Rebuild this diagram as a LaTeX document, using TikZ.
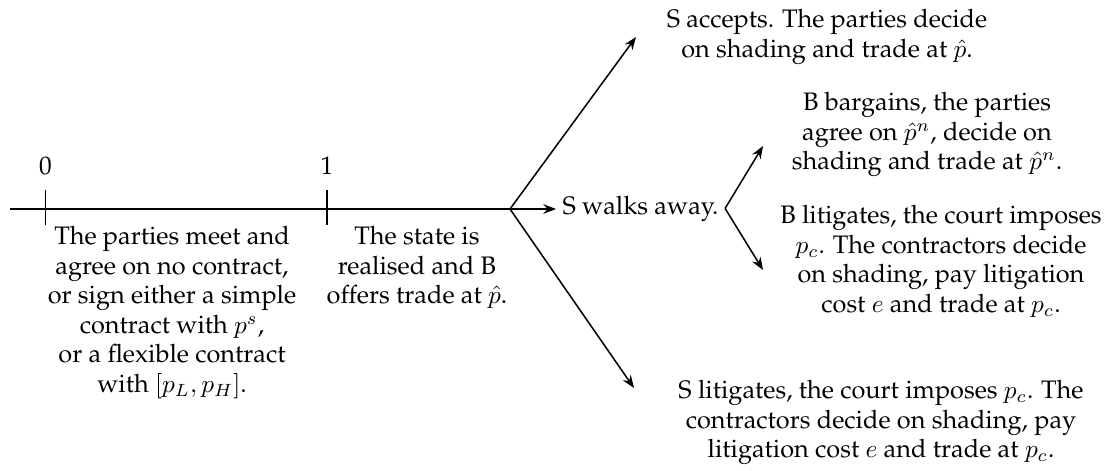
\documentclass[tikz,border=0pt]{standalone}
\usepackage[T1]{fontenc}
\usepackage{palatino}
\usetikzlibrary{arrows.meta}
\begin{document}
\begin{tikzpicture}[x=0.395pt,y=-0.395pt,
  axisline/.style={semithick},
  arr/.style={semithick,-{Stealth[length=5pt,width=3.8pt]}},
  txt/.style={align=center,inner sep=0pt,anchor=north,font=\fontsize{10}{11.65}\selectfont},
  ticklab/.style={inner sep=0pt,font=\fontsize{10}{12}\selectfont}]
\useasboundingbox (0,0) rectangle (1106,470);
% timeline
\coordinate (start) at (10,209);
\coordinate (J) at (510,209);
\coordinate (t0) at (45.5,209);
\coordinate (t1) at (327,209);
\draw[axisline] (start) -- (J);
\draw[axisline] (t0) ++(0,-19) -- ++(0,35);
\draw[axisline] (t1) ++(0,-19) -- ++(0,35);
\node[ticklab] (l0) at (45.5,166) {0};
\node[ticklab] (l1) at (327,166) {1};
% period texts
\node[txt] (a) at (172,226) {The parties meet and\\ agree on no contract,\\ or sign either a simple\\ contract with $p^s$,\\ or a flexible contract\\ with $[p_L,p_H]$.};
\node[txt] (b) at (417,226) {The state is\\ realised and B\\ offers trade at $\hat{p}$.};
% branches
\node[txt] (c) at (827,9) {S accepts. The parties decide\\ on shading and trade at $\hat{p}$.};
\node[inner xsep=2.4pt,inner ysep=0pt,anchor=base west,font=\fontsize{10}{12}\selectfont] (d) at (556,214) {S walks away.};
\node[txt] (g) at (881,380) {S litigates, the court imposes $p_c$. The\\ contractors decide on shading, pay\\ litigation cost $e$ and trade at $p_c$.};
\node[txt] (e) at (927,92) {B bargains, the parties\\ agree on $\hat{p}^n$, decide on\\ shading and trade at $\hat{p}^n$.};
\node[txt] (f) at (941,205) {B litigates, the court imposes\\ $p_c$. The contractors decide\\ on shading, pay litigation\\ cost $e$ and trade at $p_c$.};
\coordinate (cu) at (636,37);
\coordinate (gd) at (634,388);
\coordinate (eu) at (763,146);
\coordinate (fd) at (763,270);
\draw[arr] (J) -- (cu);
\draw[arr] (J) -- (J -| d.west);
\draw[arr] (J) -- (gd);
\draw[arr] (d.east) -- (eu);
\draw[arr] (d.east) -- (fd);
\end{tikzpicture}
\end{document}
